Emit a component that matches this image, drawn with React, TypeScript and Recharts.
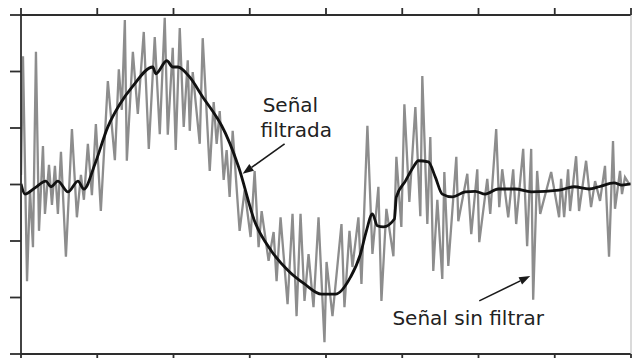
import { LineChart, Line, XAxis, YAxis, ReferenceLine, ReferenceDot } from 'recharts';

const xTicks = [0, 1, 2, 3, 4, 5, 6, 7, 8];
const yTicks = [-3, -2, -1, 0, 1, 2, 3];

// señal sin filtrar
const rawTime = [
  0, 0.026, 0.079, 0.118, 0.157, 0.196, 0.236, 0.288, 0.314, 0.367, 0.406, 0.445, 0.484, 0.524, 0.589,
  0.668, 0.733, 0.786, 0.825, 0.877, 0.93, 0.982, 1.047, 1.139, 1.231, 1.283, 1.322, 1.362, 1.388, 1.467,
  1.532, 1.61, 1.676, 1.754, 1.82, 1.885, 1.925, 1.99, 2.029, 2.082, 2.134, 2.187, 2.213, 2.252, 2.344,
  2.383, 2.475, 2.527, 2.566, 2.606, 2.658, 2.697, 2.736, 2.776, 2.867, 2.933, 3.011, 3.064, 3.116, 3.156,
  3.247, 3.313, 3.352, 3.404, 3.496, 3.561, 3.614, 3.666, 3.718, 3.771, 3.836, 3.902, 3.98, 4.007, 4.085,
  4.203, 4.242, 4.308, 4.347, 4.425, 4.465, 4.543, 4.609, 4.687, 4.727, 4.792, 4.884, 4.923, 4.988, 5.028,
  5.093, 5.172, 5.237, 5.263, 5.329, 5.368, 5.407, 5.46, 5.525, 5.552, 5.604, 5.709, 5.735, 5.853, 5.905,
  5.984, 6.01, 6.115, 6.154, 6.232, 6.272, 6.311, 6.39, 6.455, 6.494, 6.586, 6.638, 6.691, 6.717, 6.769,
  6.809, 6.953, 7.057, 7.083, 7.123, 7.175, 7.201, 7.28, 7.319, 7.411, 7.476, 7.529, 7.594, 7.659, 7.712,
  7.764, 7.79, 7.856, 7.882, 7.921, 7.974,
];
const rawSignal = [
  0.17, 2.27, -1.71, -0.1, -1.11, 2.35, -0.82, 0.68, -0.52, 0.35, -0.36, 0.33, -0.52, 0.58, -1.28,
  0.98, -0.58, 0.17, -0.27, 0.72, -0.19, 1.07, -0.47, 1.83, 0.43, 2.04, 1.32, 2.91, 0.42, 2.35,
  1.25, 2.7, 0.63, 2.61, 0.89, 2.95, 0.88, 2.42, 0.61, 2.77, 1.02, 2.2, 0.95, 1.99, 0.72,
  2.59, 0.24, 1.46, 0.72, 1.3, 0.08, 0.61, -0.22, 0.95, -0.82, -0.1, -0.93, 0.24, -1.11, -0.47,
  -1.35, -0.84, -1.71, -0.58, -2.12, -0.52, -2.33, -0.52, -2.06, -1.23, -2.17, -0.58, -2.79, -1.37, -2.33,
  -0.7, -2.17, -0.82, -1.46, -0.58, -1.76, 1.04, -1.23, -0.04, -2.06, -0.43, -1.27, 0.49, -0.75, 1.42,
  -0.31, 1.37, -0.56, 1.92, -0.7, 0.84, -1.53, -0.27, -1.67, 0.22, -1.44, 0.49, -0.65, 0.19, -0.88,
  0.27, -1.02, 0.1, -0.52, 0.98, -0.4, 0.27, -0.58, 0.27, -0.7, 0.63, -1.09, 0.63, -2.04, 0.24,
  -0.52, 0.22, -0.58, 0.1, -0.58, 0.27, -0.47, 0.5, -0.47, 0.42, -0.4, 0.06, -0.29, 0.33, -1.28,
  0.77, -0.43, 0.24, -0.17, 0.13, 0.01,
];

// señal filtrada
const filtTime = [
  0, 0.052, 0.183, 0.327, 0.393, 0.484, 0.616, 0.747, 0.825, 0.969, 1.139, 1.296, 1.466, 1.728, 1.768,
  1.912, 1.99, 2.056, 2.213, 2.383, 2.566, 2.632, 2.854, 3.064, 3.286, 3.509, 3.718, 3.941, 4.124, 4.321,
  4.452, 4.53, 4.609, 4.674, 4.753, 4.897, 4.923, 5.041, 5.146, 5.211, 5.342, 5.434, 5.525, 5.656, 5.826,
  5.957, 6.088, 6.259, 6.481, 6.691, 7.057, 7.254, 7.45, 7.581, 7.777, 7.882, 8,
];
const filtSignal = [
  0.01, -0.17, -0.06, 0.06, -0.04, 0.06, -0.13, 0.06, -0.08, 0.36, 1.02, 1.42, 1.74, 2.08, 1.96,
  2.19, 2.08, 2.08, 1.9, 1.55, 1.19, 1.04, 0.31, -0.65, -1.18, -1.53, -1.76, -1.94, -1.94, -1.64,
  -1.23, -0.82, -0.52, -0.73, -0.75, -0.61, -0.22, 0.06, 0.31, 0.42, 0.4, 0.13, -0.17, -0.22, -0.13,
  -0.12, -0.17, -0.08, -0.08, -0.13, -0.1, -0.04, -0.08, -0.04, 0.03, -0.01, 0.01,
];

const rawData = rawTime.map((t, i) => ({ t, v: rawSignal[i] }));
const filtData = filtTime.map((t, i) => ({ t, v: filtSignal[i] }));

const FONT = '"DejaVu Sans", Verdana, sans-serif';
const AXIS = '#2e2e2e';

const arrow = (props: any) => {
  const { x1, y1, x2, y2 } = props;
  const a = Math.atan2(y2 - y1, x2 - x1);
  const len = 11;
  const w = 4;
  const bx = x2 - len * Math.cos(a);
  const by = y2 - len * Math.sin(a);
  const px = -Math.sin(a) * w;
  const py = Math.cos(a) * w;
  return (
    <g>
      <line x1={x1} y1={y1} x2={bx} y2={by} stroke="#1a1a1a" strokeWidth={1.6} />
      <polygon points={`${x2},${y2} ${bx + px},${by + py} ${bx - px},${by - py}`} fill="#1a1a1a" />
    </g>
  );
};

const label = (text: string) => (props: any) => (
  <text x={props.cx} y={props.cy} fontFamily={FONT} fontSize={20} fill="#222">
    {text}
  </text>
);

export default function App() {
  return (
    <div style={{ position: 'absolute', left: 0, top: 0, width: 632, height: 358, background: '#fff' }}>
      <LineChart width={632} height={358} margin={{ top: 0, right: 0, bottom: 0, left: 0 }}>
        <XAxis xAxisId="top" orientation="top" type="number" dataKey="t" domain={[0, 8]} ticks={xTicks}
          height={15} tickSize={7} stroke={AXIS} strokeWidth={1.8} tickFormatter={() => ''} allowDataOverflow />
        <XAxis xAxisId="bottom" orientation="bottom" type="number" dataKey="t" domain={[0, 8]} ticks={xTicks}
          height={4} tickSize={6} stroke={AXIS} strokeWidth={1.8} tickFormatter={() => ''} allowDataOverflow />
        <YAxis yAxisId="left" type="number" domain={[-3, 3]} ticks={yTicks} width={21} tickSize={11}
          stroke={AXIS} strokeWidth={1.8} tickFormatter={() => ''} allowDataOverflow />
        <YAxis yAxisId="right" orientation="right" type="number" domain={[-3, 3]} width={1}
          stroke="#b5b5b5" strokeWidth={1} tick={false} tickLine={false} allowDataOverflow />
        <Line xAxisId="bottom" yAxisId="left" data={rawData} dataKey="v" type="linear" stroke="#8d8d8d"
          strokeWidth={2.3} dot={false} isAnimationActive={false} />
        <Line xAxisId="bottom" yAxisId="left" data={filtData} dataKey="v" type="monotone" stroke="#111"
          strokeWidth={2.8} dot={false} isAnimationActive={false} />
        <ReferenceLine xAxisId="bottom" yAxisId="left" segment={[{ x: 3.457, y: 0.72 }, { x: 2.907, y: 0.19 }]}
          shape={arrow} />
        <ReferenceLine xAxisId="bottom" yAxisId="left" segment={[{ x: 6.01, y: -2.06 }, { x: 6.678, y: -1.62 }]}
          shape={arrow} />
        <ReferenceDot xAxisId="bottom" yAxisId="left" x={3.169} y={1.283} r={0} shape={label('Señal')} />
        <ReferenceDot xAxisId="bottom" yAxisId="left" x={3.142} y={0.841} r={0} shape={label('filtrada')} />
        <ReferenceDot xAxisId="bottom" yAxisId="left" x={4.871} y={-2.487} r={0} shape={label('Señal sin filtrar')} />
      </LineChart>
    </div>
  );
}
